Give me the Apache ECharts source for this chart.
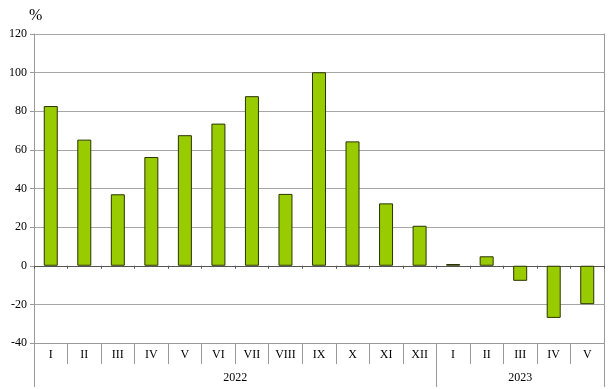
<!DOCTYPE html>
<html>
<head>
<meta charset="utf-8">
<script src="https://cdn.jsdelivr.net/npm/echarts@6/dist/echarts.min.js"></script>
<style>html,body{margin:0;padding:0;background:#fff}#c{width:609px;height:389px}</style>
</head>
<body>
<div id="c"></div>
<script>
var categories = ['I','II','III','IV','V','VI','VII','VIII','IX','X','XI','XII','I','II','III','IV','V'];
var values = [82.7, 65.3, 37.0, 56.3, 67.6, 73.6, 87.8, 37.2, 100.2, 64.4, 32.3, 20.7, 0.9, 4.9, -7.8, -27.0, -19.9];
var years = ['2022', '2023'];
var yearSpans = [12, 5];
var yTicks = {min: -40, max: 120, interval: 20};

// half-category points for the year axis
var totalCats = categories.length;
var yearPoints = [];
for (var i = 0; i <= totalCats * 2; i++) yearPoints.push('');
var boundaries = [0];
var acc = 0;
yearSpans.forEach(function (s, k) {
  var center = acc * 2 + s;
  yearPoints[center] = years[k];
  acc += s;
  boundaries.push(acc * 2);
});

var FONT = 'Liberation Serif';
var gridRect = {left: 34, right: 5, top: 34, bottom: 46};
var chart = echarts.init(document.getElementById('c'));
chart.setOption({
  animation: false,
  title: {text: '%', left: 24, top: 3, textStyle: {fontFamily: FONT, fontSize: 16, fontWeight: 'normal', color: '#000'}},
  grid: [
    Object.assign({}, gridRect),
    Object.assign({}, gridRect),
    Object.assign({}, gridRect)
  ],
  xAxis: [
    {
      type: 'category', gridIndex: 0, data: categories, position: 'bottom',
      axisLine: {onZero: true, lineStyle: {color: '#555', width: 1}},
      axisTick: {show: true, interval: 0, length: 3, lineStyle: {color: '#555'}},
      axisLabel: {show: false}
    },
    {
      type: 'category', gridIndex: 1, data: categories, position: 'bottom',
      axisLine: {onZero: false, lineStyle: {color: '#999'}},
      axisTick: {show: true, interval: 0, length: 21, lineStyle: {color: '#999'}},
      axisLabel: {interval: 0, margin: 6, fontFamily: FONT, fontSize: 12, color: '#000'}
    },
    {
      type: 'category', gridIndex: 2, data: yearPoints, boundaryGap: false, position: 'bottom',
      axisLine: {show: false, onZero: false},
      axisTick: {show: true, length: 44, lineStyle: {color: '#999'},
        interval: function (index) { return boundaries.indexOf(index) >= 0; }},
      axisLabel: {interval: 0, margin: 29, fontFamily: FONT, fontSize: 12, color: '#000'}
    }
  ],
  yAxis: [
    {
      type: 'value', gridIndex: 0, min: yTicks.min, max: yTicks.max, interval: yTicks.interval,
      axisLine: {show: true, lineStyle: {color: '#999'}},
      axisTick: {show: true, length: 4, lineStyle: {color: '#999'}},
      axisLabel: {margin: 7, fontFamily: FONT, fontSize: 12, color: '#000'},
      splitLine: {show: true, lineStyle: {color: '#a6a6a6', width: 1}}
    },
    {
      type: 'value', gridIndex: 1, min: 0, max: 1, position: 'right',
      axisLine: {show: true, lineStyle: {color: '#999'}},
      axisTick: {show: false}, axisLabel: {show: false}, splitLine: {show: false}
    },
    {
      type: 'value', gridIndex: 2, min: 0, max: 1, show: false
    }
  ],
  series: [{
    type: 'bar', xAxisIndex: 0, yAxisIndex: 0, data: values, barWidth: 14,
    itemStyle: {color: '#99cc00', borderColor: '#2b3300', borderWidth: 1}
  }]
});
</script>
</body>
</html>
